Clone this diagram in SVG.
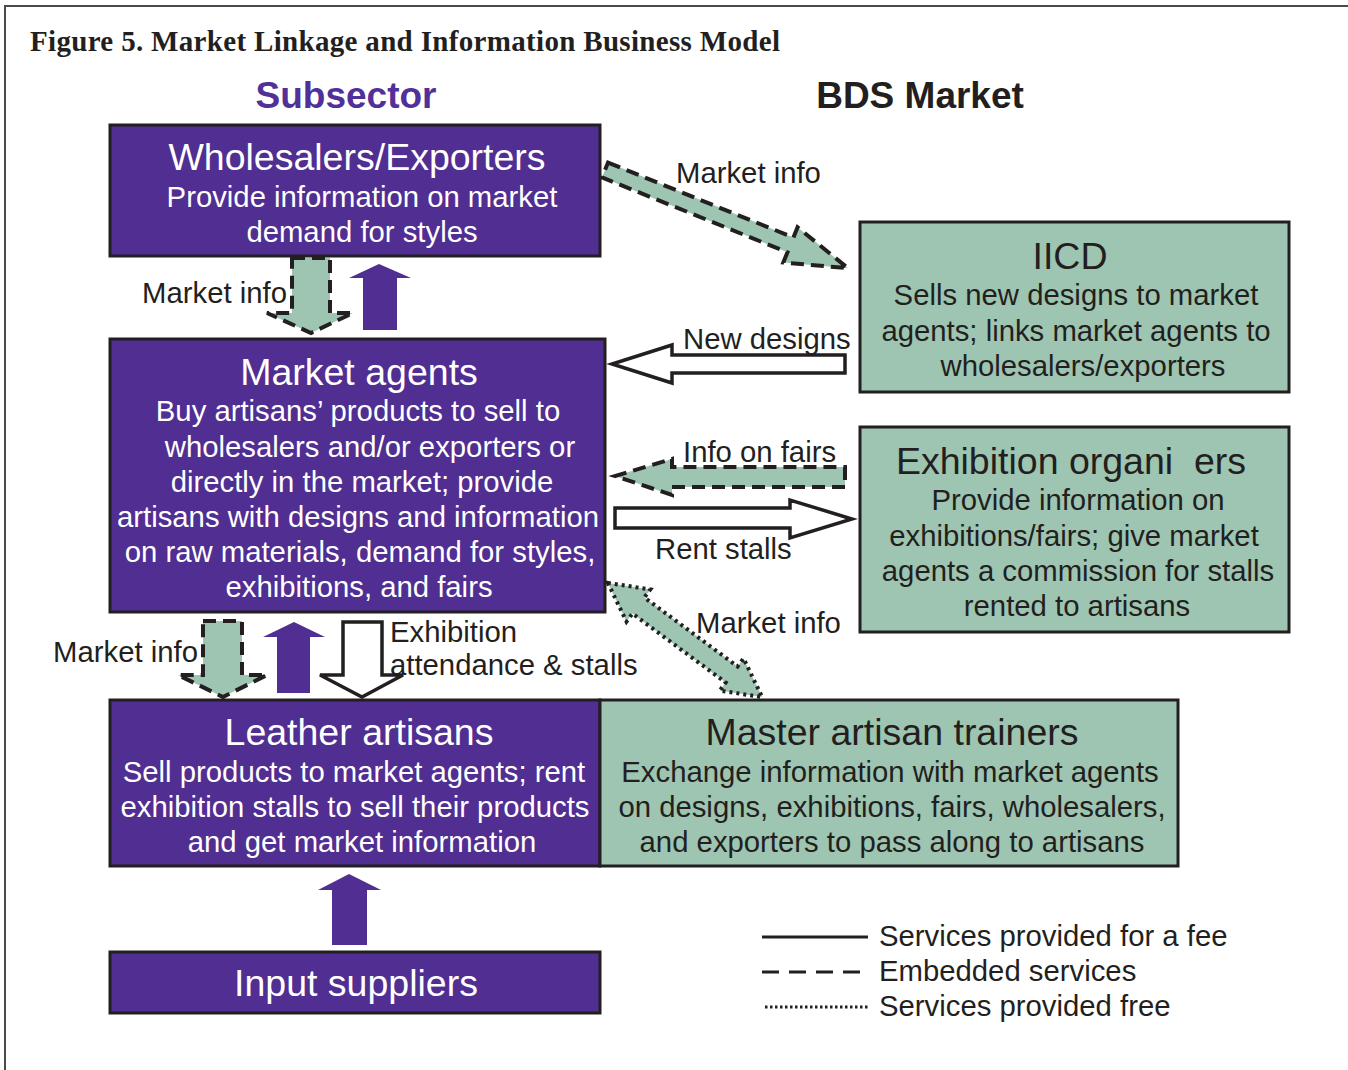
<svg xmlns="http://www.w3.org/2000/svg" width="1348" height="1070" viewBox="0 0 1348 1070">
<style>
.frame{fill:none;stroke:#4a4a4a;stroke-width:2}
.pbox{fill:#512e91;stroke:#231f20;stroke-width:3}
.gbox{fill:#9dc5b1;stroke:#231f20;stroke-width:3}
.t{font-family:"Liberation Sans",Arial,sans-serif;text-anchor:middle}
.wt{fill:#ffffff}
.bt{fill:#231f20}
.h{font-size:37.5px}
.b{font-size:29.3px}
.lbl{font-family:"Liberation Sans",Arial,sans-serif;font-size:29.3px;fill:#231f20}
.parrow{fill:#512e91;stroke:none}
.dash{fill:#9dc5b1;stroke:#231f20;stroke-width:4;stroke-dasharray:13 7;stroke-linejoin:miter}
.dot{fill:#9dc5b1;stroke:#231f20;stroke-width:4;stroke-dasharray:3 4}
.fee{fill:#ffffff;stroke:#231f20;stroke-width:3.5;stroke-linejoin:miter}
</style>
<rect width="1348" height="1070" fill="#ffffff"/>
<path class="frame" d="M5,1070 V6 H1348"/>
<text x="30" y="51" font-family="Liberation Serif,'Times New Roman',serif" font-weight="bold" font-size="29" fill="#231f20" textLength="750">Figure 5. Market Linkage and Information Business Model</text>
<text x="346" y="108" class="t" font-weight="bold" font-size="37" fill="#52309a">Subsector</text>
<text x="920" y="108" class="t" font-weight="bold" font-size="37" fill="#231f20">BDS Market</text>

<g id="connectors">
  <g id="c-wholesalers-iicd">
    <polygon class="dash" transform="translate(605,170) rotate(22)" points="0,-8 200,-8 200,-19 262,0 200,19 200,8 0,8"/>
    <text class="lbl" x="676" y="183">Market info</text>
  </g>
  <g id="c-wholesalers-agents">
    <polygon class="dash" points="292,258 330,258 330,313 353,313 311,333 267,313 292,313"/>
    <text class="lbl" x="287" y="303" text-anchor="end">Market info</text>
  </g>
  <g id="c-agents-wholesalers">
    <polygon class="parrow" points="363,330 397,330 397,278 411,278 379,264 349,278 363,278"/>
  </g>
  <g id="c-iicd-agents">
    <polygon class="fee" points="845,355 845,373 672,373 672,383 612,364 672,345 672,355"/>
    <text class="lbl" x="683" y="349">New designs</text>
  </g>
  <g id="c-exhib-agents">
    <polygon class="dash" points="845,467 845,487 672,487 672,495 615,476 672,459 672,467"/>
    <text class="lbl" x="683" y="462">Info on fairs</text>
  </g>
  <g id="c-agents-exhib">
    <polygon class="fee" points="615,508 790,508 790,500 852,519 790,538 790,528 615,528"/>
    <text class="lbl" x="655" y="559">Rent stalls</text>
  </g>
  <g id="c-agents-master">
    <polygon class="dot" transform="translate(685,640) rotate(36.5)" points="-96,0 -58,-20 -58,-10 58,-10 58,-20 96,0 58,20 58,10 -58,10 -58,20"/>
    <text class="lbl" x="696" y="633">Market info</text>
  </g>
  <g id="c-agents-artisans-info">
    <polygon class="dash" points="203,621 242,621 242,675 267,675 223,697 178,675 203,675"/>
    <text class="lbl" x="198" y="662" text-anchor="end">Market info</text>
  </g>
  <g id="c-artisans-agents">
    <polygon class="parrow" points="277,693 310,693 310,637 325,637 294,622 263,637 277,637"/>
  </g>
  <g id="c-agents-artisans-exhib">
    <polygon class="fee" points="343,622 382,622 382,675 403,675 362,697 320,675 343,675"/>
    <text class="lbl" x="390" y="642" font-size="28">Exhibition</text>
    <text class="lbl" x="390" y="675" font-size="28">attendance &amp; stalls</text>
  </g>
  <g id="c-suppliers-artisans">
    <polygon class="parrow" points="332,945 367,945 367,890 381,890 349,874 318,890 332,890"/>
  </g>
</g>

<g id="wholesalers">
  <rect class="pbox" x="110" y="125" width="490" height="131"/>
  <text class="t wt h" x="357" y="170">Wholesalers/Exporters</text>
  <text class="t wt b" x="362" y="207">Provide information on market</text>
  <text class="t wt b" x="362" y="242">demand for styles</text>
</g>
<g id="market-agents">
  <rect class="pbox" x="110" y="339" width="495" height="273"/>
  <text class="t wt h" x="359" y="385">Market agents</text>
  <text class="t wt b" x="358" y="421">Buy artisans’ products to sell to</text>
  <text class="t wt b" x="370" y="457">wholesalers and/or exporters or</text>
  <text class="t wt b" x="362" y="492">directly in the market; provide</text>
  <text class="t wt b" x="358" y="527">artisans with designs and information</text>
  <text class="t wt b" x="360" y="562">on raw materials, demand for styles,</text>
  <text class="t wt b" x="359" y="597">exhibitions, and fairs</text>
</g>
<g id="leather-artisans">
  <rect class="pbox" x="110" y="700" width="490" height="166"/>
  <text class="t wt h" x="359" y="745">Leather artisans</text>
  <text class="t wt b" x="354" y="782">Sell products to market agents; rent</text>
  <text class="t wt b" x="355" y="817">exhibition stalls to sell their products</text>
  <text class="t wt b" x="362" y="852">and get market information</text>
</g>
<g id="master-trainers">
  <rect class="gbox" x="600" y="700" width="578" height="166"/>
  <text class="t bt h" x="892" y="745">Master artisan trainers</text>
  <text class="t bt b" x="890" y="782">Exchange information with market agents</text>
  <text class="t bt b" x="892" y="817">on designs, exhibitions, fairs, wholesalers,</text>
  <text class="t bt b" x="892" y="852">and exporters to pass along to artisans</text>
</g>
<g id="input-suppliers">
  <rect class="pbox" x="110" y="952" width="490" height="61"/>
  <text class="t wt h" x="356" y="996">Input suppliers</text>
</g>
<g id="iicd">
  <rect class="gbox" x="860" y="222" width="429" height="170"/>
  <text class="t bt h" x="1070" y="269">IICD</text>
  <text class="t bt b" x="1076" y="305">Sells new designs to market</text>
  <text class="t bt b" x="1076" y="341">agents; links market agents to</text>
  <text class="t bt b" x="1083" y="376">wholesalers/exporters</text>
</g>
<g id="exhibition-organizers">
  <rect class="gbox" x="860" y="427" width="429" height="205"/>
  <text class="t bt h" x="1071" y="474" xml:space="preserve">Exhibition organi  ers</text>
  <text class="t bt b" x="1078" y="510">Provide information on</text>
  <text class="t bt b" x="1074" y="546">exhibitions/fairs; give market</text>
  <text class="t bt b" x="1078" y="581">agents a commission for stalls</text>
  <text class="t bt b" x="1077" y="616">rented to artisans</text>
</g>

<g id="legend">
  <line x1="762" y1="937" x2="868" y2="937" stroke="#231f20" stroke-width="3"/>
  <line x1="762" y1="972" x2="862" y2="972" stroke="#231f20" stroke-width="3" stroke-dasharray="17 10"/>
  <line x1="765" y1="1007" x2="870" y2="1007" stroke="#231f20" stroke-width="3" stroke-dasharray="2.5 2.5"/>
  <text class="lbl" x="879" y="946">Services provided for a fee</text>
  <text class="lbl" x="879" y="981">Embedded services</text>
  <text class="lbl" x="879" y="1016">Services provided free</text>
</g>
</svg>
